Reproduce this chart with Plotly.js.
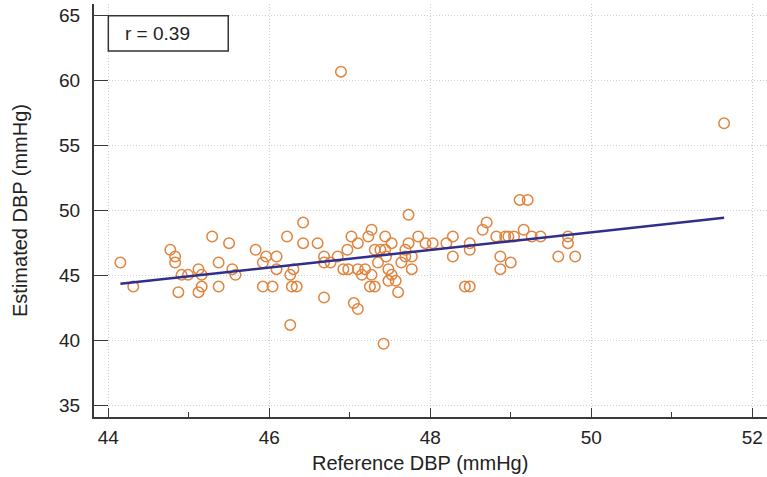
<!DOCTYPE html>
<html>
<head>
<meta charset="utf-8">
<script src="https://cdn.plot.ly/plotly-3.0.1.min.js"></script>
<style>html,body{margin:0;padding:0;background:#fff;}#chart{width:767px;height:477px;}</style>
</head>
<body>
<div id="chart"></div>
<script>
// Reference DBP (x) vs Estimated DBP (y)
var refDBP = [
  44.15, 44.31, 44.77, 44.83, 44.83, 44.91, 44.99, 44.87, 45.12, 45.16,
  45.16, 45.12, 45.29, 45.37, 45.37, 45.50, 45.54, 45.58, 45.83, 45.92,
  46.04, 45.92, 45.96, 46.09, 46.09, 46.22, 46.42, 46.42, 46.60, 46.30,
  46.26, 46.28, 46.34, 46.26, 46.68, 46.68, 46.76, 46.85, 46.68, 46.97,
  47.02, 47.10, 46.92, 46.98, 47.10, 47.15, 47.19, 47.23, 47.27, 47.27,
  47.25, 47.31, 47.31, 47.38, 47.44, 47.44, 47.45, 47.35, 47.52, 47.48,
  47.52, 47.48, 47.57, 47.60, 47.64, 47.69, 47.73, 47.69, 47.77, 47.77,
  47.73, 47.85, 47.94, 48.03, 48.20, 48.28, 48.28, 48.49, 48.49, 48.43,
  48.49, 48.65, 48.70, 48.82, 48.93, 48.97, 49.04, 48.87, 48.87, 49.00,
  49.16, 49.26, 49.37, 49.11, 49.21, 49.59, 49.71, 49.71, 49.80, 47.42,
  47.05, 47.10, 46.89, 51.65
];
var estDBP = [
  46.00, 44.15, 46.98, 46.46, 46.00, 45.05, 45.05, 43.72, 45.49, 45.05,
  44.15, 43.72, 48.00, 46.00, 44.15, 47.49, 45.49, 45.05, 46.98, 44.15,
  44.15, 46.00, 46.46, 46.46, 45.49, 48.00, 49.08, 47.49, 47.49, 45.49,
  45.05, 44.15, 44.15, 41.20, 46.46, 46.00, 46.00, 46.46, 43.31, 46.98,
  48.00, 47.49, 45.49, 45.49, 45.49, 45.05, 45.49, 48.00, 48.52, 45.05,
  44.15, 44.15, 46.98, 46.98, 48.00, 46.98, 46.46, 46.00, 47.49, 45.49,
  45.05, 44.59, 44.59, 43.72, 46.00, 46.98, 47.49, 46.46, 46.46, 45.49,
  49.67, 48.00, 47.49, 47.49, 47.49, 48.00, 46.46, 47.49, 46.98, 44.15,
  44.15, 48.52, 49.08, 48.00, 48.00, 48.00, 48.00, 46.46, 45.49, 46.00,
  48.52, 48.00, 48.00, 50.82, 50.82, 46.46, 48.00, 47.49, 46.46, 39.75,
  42.88, 42.42, 60.69, 56.72
];
// Regression line end points as drawn in the picture
var fitX = [44.15, 51.65];
var fitY = [44.36, 49.44];
var rLabel = "r = 0.39";
var xTitle = "Reference DBP (mmHg)";
var yTitle = "Estimated DBP (mmHg)";
var xTickVals = [44, 46, 48, 50, 52];
var yTickVals = [35, 40, 45, 50, 55, 60, 65];

var FONT = "Liberation Sans, Arial, sans-serif";

var traces = [
  {
    x: refDBP, y: estDBP, type: "scatter", mode: "markers",
    marker: {symbol: "circle-open", size: 10.5, color: "#E0843E", line: {width: 1.5, color: "#E0843E"}},
    hoverinfo: "x+y", showlegend: false
  },
  {
    x: fitX, y: fitY, type: "scatter", mode: "lines",
    line: {color: "#2F2F8C", width: 2.5}, showlegend: false, hoverinfo: "skip"
  }
];

var layout = {
  width: 767, height: 477,
  margin: {l: 94, r: 0, t: 4, b: 60, pad: 0},
  paper_bgcolor: "#ffffff", plot_bgcolor: "#ffffff",
  font: {family: FONT, color: "#222", size: 18},
  xaxis: {
    range: [43.822, 52.183], tickvals: xTickVals, ticktext: xTickVals.map(String),
    showgrid: true, gridcolor: "#cfcfcf", gridwidth: 1, griddash: "1px,2px",
    zeroline: false, showline: true, linecolor: "#3a3a3a", linewidth: 2,
    ticks: "inside", ticklen: 9, tickwidth: 1.5, tickcolor: "#3a3a3a",
    minor: {dtick: 1, tick0: 44, ticks: "inside", ticklen: 5, tickwidth: 1.2, tickcolor: "#3a3a3a", showgrid: false},
    tickfont: {family: FONT, size: 19, color: "#222"},
    ticklabelstandoff: 2,
    automargin: false, fixedrange: true
  },
  yaxis: {
    range: [34.11, 65.9], tickvals: yTickVals, ticktext: yTickVals.map(String),
    showgrid: true, gridcolor: "#cfcfcf", gridwidth: 1, griddash: "1px,2px",
    zeroline: false, showline: true, linecolor: "#3a3a3a", linewidth: 2,
    ticks: "inside", ticklen: 14, tickwidth: 1.5, tickcolor: "#3a3a3a",
    tickfont: {family: FONT, size: 19, color: "#222"},
    ticklabelstandoff: 8,
    title: {text: yTitle, font: {family: FONT, size: 20, color: "#222"}, standoff: 26},
    automargin: false, fixedrange: true
  },
  shapes: [
    {type: "rect", xref: "x", yref: "y", x0: 44, x1: 45.49, y0: 65, y1: 62.28,
     line: {color: "#333", width: 1.5}, fillcolor: "#ffffff", layer: "above"}
  ],
  annotations: [
    {text: rLabel, xref: "x", yref: "y", x: 44.186, y: 63.64, xanchor: "left", yanchor: "middle",
     showarrow: false, font: {family: FONT, size: 19, color: "#222"}},
    {text: xTitle, xref: "paper", yref: "paper", x: 0.4844, y: -0.111, xanchor: "center", yanchor: "middle",
     showarrow: false, font: {family: FONT, size: 20, color: "#222"}}
  ]
};

Plotly.newPlot("chart", traces, layout, {displayModeBar: false, staticPlot: true});
</script>
</body>
</html>
